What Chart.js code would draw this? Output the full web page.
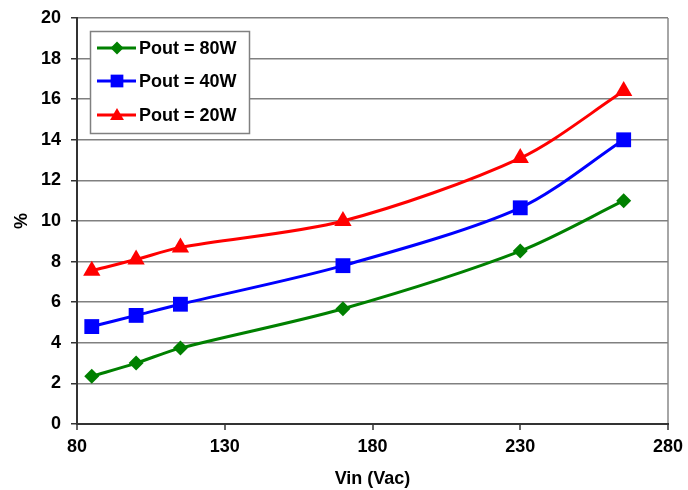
<!DOCTYPE html>
<html>
<head>
<meta charset="utf-8">
<script src="https://cdn.jsdelivr.net/npm/chart.js@4/dist/chart.umd.min.js"></script>
<style>
  html, body { margin: 0; padding: 0; background: #fff; }
  #wrap { width: 688px; height: 490px; }
</style>
</head>
<body>
<div id="wrap"><canvas id="c" width="688" height="490"></canvas></div>
<script>
// Input voltage (Vac) where each curve was measured
const vin = [85, 100, 115, 170, 230, 265];
// Percentage values per output power
const pout80 = [2.35, 3.0, 3.74, 5.68, 8.52, 11.0];
const pout40 = [4.8, 5.35, 5.9, 7.8, 10.65, 14.0];
const pout20 = [7.55, 8.1, 8.7, 10.0, 13.1, 16.4];
const seriesLabels = ['Pout = 80W', 'Pout = 40W', 'Pout = 20W'];
const xTicks = [80, 130, 180, 230, 280];
const yTicks = [0, 2, 4, 6, 8, 10, 12, 14, 16, 18, 20];

const FONT = 'Liberation Sans, Arial, sans-serif';

const toPoints = ys => vin.map((x, i) => ({ x: x, y: ys[i] }));

const styles = [
  { color: '#008000', pointStyle: 'rectRot', radius: 7.5, legendRadius: 6.5 },
  { color: '#0000ff', pointStyle: 'rect', radius: 10.5, legendRadius: 9 },
  { color: '#ff0000', pointStyle: 'triangle', radius: 10, legendRadius: 8 }
];

const datasets = [pout80, pout40, pout20].map((ys, i) => ({
  label: seriesLabels[i],
  data: toPoints(ys),
  borderColor: styles[i].color,
  backgroundColor: styles[i].color,
  borderWidth: 3,
  pointStyle: styles[i].pointStyle,
  pointRadius: styles[i].radius,
  pointHoverRadius: styles[i].radius,
  pointBorderWidth: 0,
  tension: 0.3,
  fill: false
}));

// Boxed legend drawn inside the plot area, upper left
const boxLegend = {
  id: 'boxLegend',
  afterDraw(chart) {
    const ctx = chart.ctx;
    const left = 90, top = 31, w = 159, h = 102;
    ctx.save();
    ctx.fillStyle = '#ffffff';
    ctx.fillRect(left, top, w, h);
    ctx.strokeStyle = '#808080';
    ctx.lineWidth = 1.5;
    ctx.strokeRect(left + 0.5, top + 0.5, w, h);
    const rows = [48, 81, 115];
    chart.data.datasets.forEach((ds, i) => {
      const y = rows[i];
      ctx.strokeStyle = ds.borderColor;
      ctx.lineWidth = 3;
      ctx.beginPath();
      ctx.moveTo(97, y);
      ctx.lineTo(136, y);
      ctx.stroke();
      ctx.fillStyle = ds.backgroundColor;
      Chart.helpers.drawPoint(ctx, {
        pointStyle: ds.pointStyle,
        rotation: 0,
        borderWidth: 0,
        radius: styles[i].legendRadius
      }, 117, y + (ds.pointStyle === 'triangle' ? 1 : 0));
      ctx.fillStyle = '#000';
      ctx.font = 'bold 18px ' + FONT;
      ctx.textBaseline = 'middle';
      ctx.textAlign = 'left';
      ctx.fillText(ds.label, 139, y + 1);
    });
    ctx.restore();
  }
};

new Chart(document.getElementById('c'), {
  type: 'line',
  data: { datasets: datasets },
  plugins: [boxLegend],
  options: {
    responsive: false,
    animation: false,
    devicePixelRatio: 1,
    layout: { padding: { top: 18, right: 20, left: 0, bottom: 0 } },
    plugins: {
      legend: { display: false },
      tooltip: { enabled: false }
    },
    scales: {
      x: {
        type: 'linear',
        min: 80,
        max: 280,
        afterBuildTicks(scale) { scale.ticks = xTicks.map(v => ({ value: v })); },
        afterFit(scale) {
          scale.height = 66;
          scale.paddingLeft = 0; scale.paddingRight = 0;
        },
        border: { display: true, color: '#333', width: 2 },
        grid: {
          drawOnChartArea: true,
          color: ctx => (ctx.tick && ctx.tick.value === 280) ? '#a6a6a6' : 'rgba(0,0,0,0)',
          lineWidth: 2,
          tickColor: '#333',
          tickWidth: 1.5,
          tickLength: 6
        },
        ticks: {
          color: '#000',
          padding: 6,
          maxRotation: 0,
          font: { family: FONT, size: 18, weight: 'bold' }
        },
        title: {
          display: true,
          text: 'Vin (Vac)',
          color: '#000',
          padding: { top: 7, bottom: 0 },
          font: { family: FONT, size: 18, weight: 'bold' }
        }
      },
      y: {
        min: 0,
        max: 20,
        afterBuildTicks(scale) { scale.ticks = yTicks.map(v => ({ value: v })); },
        afterFit(scale) {
          scale.width = 77;
          scale.paddingTop = 0; scale.paddingBottom = 0;
        },
        border: { display: true, color: '#333', width: 2 },
        grid: {
          color: '#808080',
          lineWidth: 1.5,
          tickColor: '#333',
          tickWidth: 1.5,
          tickLength: 6
        },
        ticks: {
          color: '#000',
          padding: 10,
          font: { family: FONT, size: 18, weight: 'bold' }
        },
        title: {
          display: true,
          text: '%',
          color: '#000',
          padding: { top: 11, bottom: 3 },
          font: { family: FONT, size: 18, weight: 'bold' }
        }
      }
    }
  }
});
</script>
</body>
</html>
